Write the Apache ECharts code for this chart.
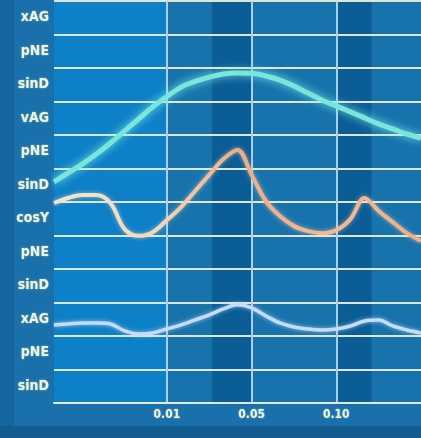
<!DOCTYPE html>
<html>
<head>
<meta charset="utf-8">
<script src="https://cdn.jsdelivr.net/npm/echarts@6/dist/echarts.min.js"></script>
<style>
html,body{margin:0;padding:0;background:#1a70aa;}
#chart{width:421px;height:438px;}
</style>
</head>
<body>
<div id="chart"></div>
<script>
// Y categories, bottom to top
const yCategories = ['sinD','pNE','xAG','sinD','pNE','cosY','sinD','pNE','vAG','sinD','pNE','xAG'];
// x sample positions (axis units)
const xSamples = [0,1,2,3,4,5,6,7,8,9,10,11,12,13,14,15,16,17,18,19,20,21,22,23,24,25,26];
// x tick values and their labels
const xTickValues = [8, 14, 20];
const xTickLabels = ['0.01', '0.05', '0.10'];
// series values (in category-band units, 0 = bottom, 12 = top)
const tealValues = [6.60,6.87,7.13,7.43,7.76,8.12,8.48,8.84,9.15,9.43,9.60,9.73,9.82,9.85,9.84,9.76,9.64,9.46,9.25,9.04,8.87,8.69,8.51,8.33,8.18,8.03,7.91];
const orangeValues = [5.97,6.12,6.21,6.21,5.97,5.19,4.99,5.10,5.46,5.85,6.33,6.81,7.28,7.55,6.81,6.03,5.58,5.28,5.13,5.07,5.16,5.49,6.12,5.73,5.40,5.07,4.84];
const blueValues = [2.33,2.36,2.39,2.39,2.36,2.15,2.06,2.09,2.21,2.33,2.48,2.63,2.81,2.93,2.84,2.60,2.39,2.27,2.21,2.18,2.21,2.30,2.45,2.48,2.30,2.18,2.09];
// background column bands (axis units)
const bandRanges = [[0, 8], [8, 11.2], [11.2, 14], [14, 20], [20, 22.5], [22.5, 26]];
const bandKinds = ['bright', 'medium', 'dark', 'medium', 'dark', 'medium'];

const bandColors = {bright: '#0e80c7', medium: '#1873ac', dark: '#0b5d96'};
const pairs = vals => xSamples.map((x, i) => [x, vals[i]]);

const chart = echarts.init(document.getElementById('chart'));
const labelFont = "'Liberation Sans Narrow','DejaVu Sans Condensed','Roboto Condensed',sans-serif";

chart.setOption({
  backgroundColor: '#1a70aa',
  animation: false,
  graphic: [
    {type: 'rect', z: -10, shape: {x: 0, y: 0, width: 14, height: 438}, style: {fill: '#1566a0'}},
    {type: 'rect', z: -10, shape: {x: 0, y: 426, width: 421, height: 12}, style: {fill: '#135c90'}}
  ],
  grid: {left: 54, right: -13, top: 1, bottom: 35, containLabel: false},
  xAxis: {
    type: 'value', min: 0, max: 26, z: 1,
    axisLine: {show: true, lineStyle: {color: '#e4ead6', width: 2}},
    axisTick: {show: true, length: 0, customValues: xTickValues},
    axisLabel: {
      customValues: xTickValues,
      formatter: v => xTickLabels[xTickValues.indexOf(v)] || '',
      color: '#eef3dc', fontSize: 12, fontWeight: 'bold', fontFamily: labelFont,
      margin: 6, textShadowColor: 'rgba(240,250,220,0.6)', textShadowBlur: 2
    },
    splitLine: {show: true, lineStyle: {color: '#a6d0ee', width: 2}}
  },
  yAxis: [
    {
      type: 'category', data: yCategories, boundaryGap: true, z: 1,
      axisLine: {show: false}, axisTick: {show: false},
      axisLabel: {
        color: '#eef3dc', fontSize: 14, fontWeight: 'bold', fontFamily: labelFont,
        margin: 5, textShadowColor: 'rgba(240,250,220,0.6)', textShadowBlur: 2
      },
      splitLine: {show: true, lineStyle: {color: '#dfe6d2', width: 2}}
    },
    {
      type: 'value', min: 0, max: 12, show: false, splitLine: {show: false}
    }
  ],
  series: [
    {
      type: 'line', yAxisIndex: 1, z: 0, data: [[0, -5], [26, -5]], symbol: 'none',
      lineStyle: {opacity: 0}, silent: true,
      markArea: {
        silent: true, z: 0,
        data: bandRanges.map((r, i) => [
          {xAxis: r[0], itemStyle: {color: bandColors[bandKinds[i]]}},
          {xAxis: r[1]}
        ])
      }
    },
    {
      type: 'line', yAxisIndex: 1, data: pairs(tealValues), smooth: 0.35, symbol: 'none',
      lineStyle: {color: '#7ae6da', width: 5, shadowColor: 'rgba(130,245,235,0.9)', shadowBlur: 9}
    },
    {
      type: 'line', yAxisIndex: 1, data: pairs(orangeValues), smooth: 0.35, symbol: 'none',
      lineStyle: {
        width: 4,
        color: new echarts.graphic.LinearGradient(0, 0, 1, 0, [
          {offset: 0, color: '#f1e7cf'},
          {offset: 0.3, color: '#f3d6b6'},
          {offset: 0.5, color: '#f6a981'},
          {offset: 0.75, color: '#f7b892'},
          {offset: 1, color: '#f5ab86'}
        ]),
        shadowColor: 'rgba(250,220,190,0.6)', shadowBlur: 4
      }
    },
    {
      type: 'line', yAxisIndex: 1, data: pairs(blueValues), smooth: 0.35, symbol: 'none',
      lineStyle: {color: '#c6dbf6', width: 3.5, shadowColor: 'rgba(200,225,255,0.7)', shadowBlur: 4}
    }
  ]
});
</script>
</body>
</html>
